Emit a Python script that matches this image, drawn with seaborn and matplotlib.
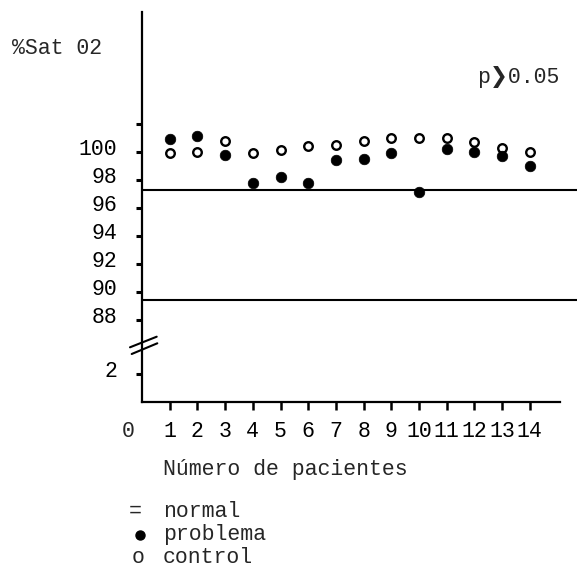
import numpy as np
import pandas as pd
import matplotlib
matplotlib.use("Agg")
import matplotlib.pyplot as plt
import matplotlib.transforms as mtransforms
from matplotlib.lines import Line2D
import seaborn as sns

# ---- data ----
patients = list(range(1, 15))
problema = [100.9, 101.1, 99.8, 97.8, 98.2, 97.8, 99.4, 99.5, 99.9, 97.1, 100.2, 100.0, 99.7, 99.0]
control = [99.9, 100.0, 100.8, 99.9, 100.1, 100.4, 100.5, 100.8, 101.0, 101.0, 101.0, 100.7, 100.3, 100.0]
normal_limits = [97.3, 89.4]
y_ticks = [2, 88, 90, 92, 94, 96, 98, 100, 102]
y_tick_labels = ["2", "88", "90", "92", "94", "96", "98", "100", ""]
x_tick_labels = [str(p) for p in patients]

df = pd.DataFrame({
    "paciente": patients * 2,
    "sat": problema + control,
    "grupo": ["problema"] * len(patients) + ["control"] * len(patients),
})

sns.set_style("white")
plt.rcParams["font.family"] = ["Liberation Mono", "DejaVu Sans"]
FS = 15.5

W, H = 577, 569
fig = plt.figure(figsize=(W / 100, H / 100), dpi=100)
ax = fig.add_axes([142 / W, 1 - 402 / H, (577 - 142) / W, (402 - 12) / H])

# broken y scale: low segment (0..B) and high segment (B+GAP..)
GAP, B = 82.1, 4.4


def fwd(v):
    v = np.asarray(v, dtype=float)
    return np.where(v <= B, v, np.where(v >= B + GAP, v - GAP, B))


def inv(u):
    u = np.asarray(u, dtype=float)
    return np.where(u <= B, u, u + GAP)


ax.set_yscale("function", functions=(fwd, inv))
ax.set_ylim(0, 110)
ax.set_xlim(0, 435 / 27.7)

# normal limits
for y in normal_limits:
    ax.axhline(y, color="black", lw=1.5, zorder=1)

# points: control (open) first, problema (filled) on top
sns.scatterplot(data=df[df.grupo == "control"], x="paciente", y="sat", ax=ax,
                marker="o", s=38, facecolor="white", edgecolor="black",
                linewidth=1.7, zorder=3, legend=False)
sns.scatterplot(data=df[df.grupo == "problema"], x="paciente", y="sat", ax=ax,
                marker="o", s=58, color="black", edgecolor="black",
                linewidth=0.5, zorder=4, legend=False)

ax.set_xlabel("")
ax.set_ylabel("")
for s in ["top", "right"]:
    ax.spines[s].set_visible(False)
for s in ["left", "bottom"]:
    ax.spines[s].set_linewidth(1.6)
    ax.spines[s].set_color("black")
ax.spines["bottom"].set_bounds(0, 15.1)

ax.set_xticks(patients)
ax.set_xticklabels(x_tick_labels, fontsize=FS)
ax.set_yticks(y_ticks)
ax.set_yticklabels(y_tick_labels, fontsize=FS)
ax.yaxis.set_minor_locator(matplotlib.ticker.NullLocator())
ax.xaxis.set_minor_locator(matplotlib.ticker.NullLocator())
ax.tick_params(axis="x", bottom=True, direction="out", length=6, width=1.8, pad=8, colors="black")
ax.tick_params(axis="y", left=True, direction="out", length=4, width=2.2, pad=14, colors="black")
off = mtransforms.ScaledTranslation(0, 5 / 100, fig.dpi_scale_trans)
for lab in ax.get_yticklabels():
    lab.set_transform(lab.get_transform() + off)

# axis break marks
for (x0, y0, x1, y1) in [(130, 347.3, 156.7, 336.7), (131.7, 354.0, 157.3, 343.3)]:
    fig.add_artist(Line2D([x0 / W, x1 / W], [1 - y0 / H, 1 - y1 / H],
                          color="black", lw=1.5, transform=fig.transFigure))

# texts
def ftext(x, y, s, **kw):
    fig.text(x / W, 1 - y / H, s, fontsize=FS, va="baseline", **kw)


ftext(12, 54, "%Sat 02", ha="left")
ftext(477, 83, "p\u276f0.05", ha="left")
ftext(128, 437, "0", ha="center")
ftext(163, 475, "Número de pacientes", ha="left")
ftext(135, 517, "=", ha="center")
ftext(163, 517, "normal", ha="left")
fig.add_artist(Line2D([140 / W], [1 - 535 / H], marker="o", color="black",
                      markersize=6.5, linestyle="none", transform=fig.transFigure))
ftext(163, 540, "problema", ha="left")
ftext(138, 563, "o", ha="center")
ftext(163, 563, "control", ha="left")

fig.savefig("out.png", dpi=100, facecolor="white")
